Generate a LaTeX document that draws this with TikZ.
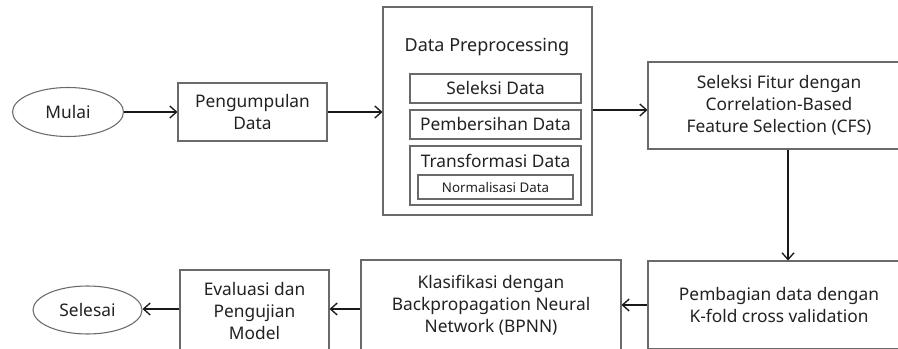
\documentclass[tikz,border=0pt]{standalone}
\usepackage{fontspec}
\setmainfont{Noto Sans}
\usetikzlibrary{arrows.meta,shapes.geometric}
\definecolor{boxgray}{HTML}{6A6A6A}
\definecolor{txt}{HTML}{222222}
\tikzset{
  base/.style={draw=boxgray, line width=0.8pt, text=txt, align=center, inner sep=0pt,
    font=\fontsize{13}{16.5}\selectfont},
  proc/.style={base, rectangle},
  term/.style={base, ellipse},
  small/.style={base, font=\fontsize{10}{12}\selectfont},
  arr/.style={draw=black!90, line width=1pt, -{Straight Barb[length=5pt,width=9pt]}}
}
\begin{document}
\begin{tikzpicture}[x=0.75pt,y=-0.75pt]
\useasboundingbox (0,0) rectangle (898,349);
\clip (0,0) rectangle (898,349);
\fill[white] (0,0) rectangle (898,349);
% top row
\node[term, minimum width=111*0.75pt, minimum height=49*0.75pt] (mulai) at (68,112) {Mulai};
\node[proc, minimum width=149*0.75pt, minimum height=58*0.75pt] (kumpul) at (252.5,112) {Pengumpulan\\Data};
\node[proc, minimum width=209*0.75pt, minimum height=208*0.75pt] (dp) at (487.5,111) {};
\node[text=txt, font=\fontsize{13.5}{15}\selectfont, inner sep=0pt] (dptitle) at (487,47) {Data Preprocessing};
\node[proc, minimum width=171*0.75pt, minimum height=29*0.75pt] (sel) at (495.5,88.5) {Seleksi Data};
\node[proc, minimum width=171*0.75pt, minimum height=29*0.75pt] (bersih) at (495.5,124.5) {Pembersihan Data};
\node[proc, minimum width=171*0.75pt, minimum height=59*0.75pt] (trans) at (495.5,175.5) {};
\node[text=txt, font=\fontsize{13}{15}\selectfont, inner sep=0pt] (transtxt) at (495.5,161) {Transformasi Data};
\node[small, minimum width=155*0.75pt, minimum height=24*0.75pt] (norm) at (495.5,187) {Normalisasi Data};
\node[proc, minimum width=262*0.75pt, minimum height=87*0.75pt] (cfs) at (779,105.5) {Seleksi Fitur dengan\\Correlation-Based\\Feature Selection (CFS)};
% bottom row
\node[proc, minimum width=262*0.75pt, minimum height=88*0.75pt] (bagi) at (779,305) {Pembagian data dengan\\K-fold cross validation};
\node[proc, minimum width=260*0.75pt, minimum height=90*0.75pt] (klas) at (491,305) {Klasifikasi dengan\\Backpropagation Neural\\Network (BPNN)};
\node[proc, minimum width=149*0.75pt, minimum height=82*0.75pt] (eval) at (254.5,311) {Evaluasi dan\\Pengujian\\Model};
\node[term, minimum width=109*0.75pt, minimum height=48*0.75pt] (selesai) at (87.5,310) {Selesai};
% connectors
\draw[arr] (mulai.east) -- (mulai.east -| kumpul.west);
\draw[arr] (kumpul.east) -- (kumpul.east -| dp.west);
\draw[arr] ([yshift=1*0.75pt]dp.east) -- ([yshift=1*0.75pt]dp.east -| cfs.west);
\draw[arr] ([xshift=9*0.75pt]cfs.south) -- ([xshift=9*0.75pt]cfs.south |- bagi.north);
\draw[arr] (bagi.west) -- (bagi.west -| klas.east);
\draw[arr] ([yshift=-4*0.75pt]klas.west) -- ([yshift=-4*0.75pt]klas.west -| eval.east);
\draw[arr] ([yshift=2*0.75pt]eval.west) -- ([yshift=2*0.75pt]eval.west -| selesai.east);
\end{tikzpicture}
\end{document}
